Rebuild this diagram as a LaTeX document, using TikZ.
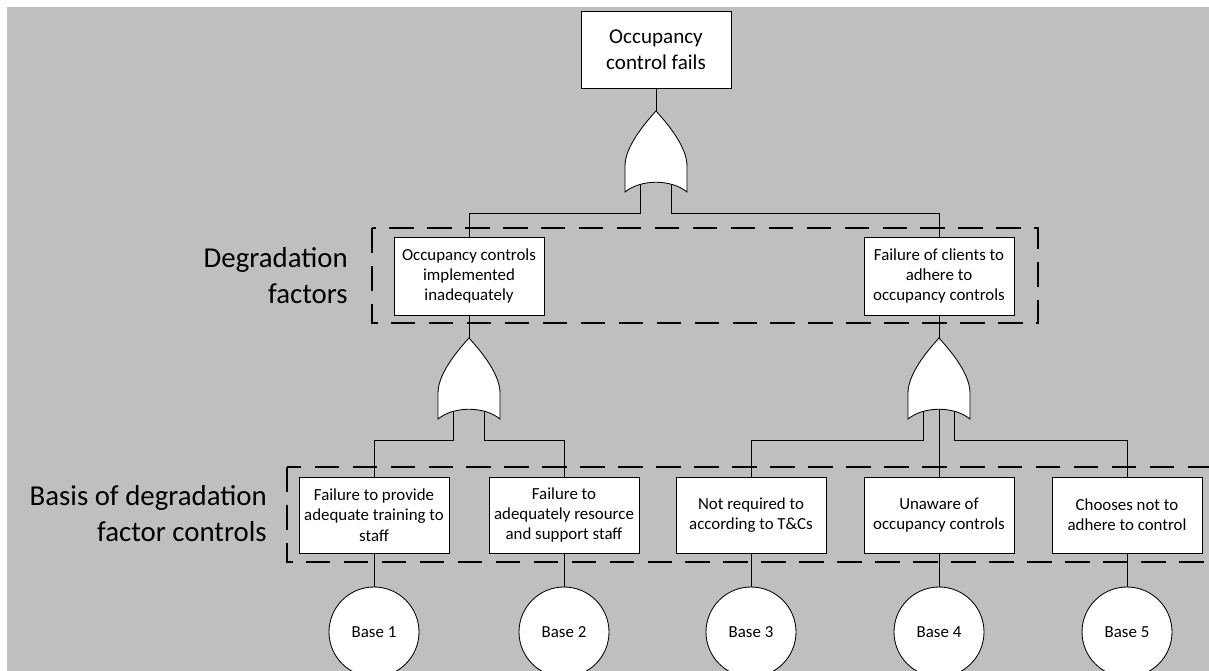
\documentclass[tikz,border=0pt]{standalone}
\usepackage{fontspec}
\setmainfont{Carlito}
\usetikzlibrary{positioning}
\definecolor{bggray}{RGB}{191,191,191}

\tikzset{
  event/.style={draw,fill=white,line width=0.6pt,minimum width=3.75cm,minimum height=1.9cm,
    align=center,inner sep=2pt,font=\fontsize{12}{14.5}\selectfont},
  midevent/.style={event,minimum height=1.95cm},
  topevent/.style={event,minimum height=1.925cm,font=\fontsize{15}{18}\selectfont},
  basic/.style={draw,fill=white,circle,line width=0.6pt,minimum size=2.25cm,inner sep=0pt,
    font=\fontsize{12}{14.5}\selectfont},
  layer/.style={line width=1pt,dash pattern=on 17.5pt off 9.5pt},
  wire/.style={line width=0.6pt},
  sidelabel/.style={anchor=east,align=right,inner sep=0pt,font=\fontsize{20.5}{25.5}\selectfont},
  orgate/.pic={
    \draw[fill=white,line width=0.6pt] (0,0) .. controls (-0.3,-0.33) and (-0.775,-0.9) .. (-0.775,-1.375)
      -- (-0.775,-2.025) .. controls (-0.375,-1.7) and (0.375,-1.7) .. (0.775,-2.025)
      -- (0.775,-1.375) .. controls (0.775,-0.9) and (0.3,-0.33) .. (0,0) -- cycle;
    \coordinate (-out) at (0,0);
    \coordinate (-a) at (-0.39,-1.835);
    \coordinate (-b) at (0.39,-1.835);
    \coordinate (-m) at (0,-1.781);
    \coordinate (-al) at (-0.39,-2.55);
    \coordinate (-bl) at (0.39,-2.55);
  }
}

\begin{document}
\begin{tikzpicture}
\useasboundingbox (0,0) rectangle (30.225,-16.775);
\clip (0,0) rectangle (30.225,-16.775);
\fill[bggray] (0.175,-0.175) rectangle (30.225,-16.775);

% layers
\draw[layer] (9.3,-5.7) rectangle (25.95,-8.075);
\draw[layer] (7.175,-11.675) rectangle (30.6,-14.05);

\node[sidelabel] (lab1) at (8.7,-6.9) {Degradation\\factors};
\node[sidelabel] (lab2) at (6.675,-12.85) {Basis of degradation\\factor controls};

\node[topevent] (top) at (16.4,-1.24) {Occupancy\\control fails};
\pic (g0) at (16.4,-2.775) {orgate};

\node[midevent] (n1) at (11.725,-6.9) {Occupancy controls\\implemented\\inadequately};
\node[midevent] (n2) at (23.475,-6.9) {Failure of clients to\\adhere to\\occupancy controls};
\pic (g1) at (11.725,-8.45) {orgate};
\pic (g2) at (23.475,-8.45) {orgate};

\node[event] (b1) at (9.35,-12.875) {Failure to provide\\adequate training to\\staff};
\node[event] (b2) at (14.1,-12.875) {Failure to\\adequately resource\\and support staff};
\node[event] (b3) at (18.775,-12.875) {Not required to\\according to T\&Cs};
\node[event] (b4) at (23.475,-12.875) {Unaware of\\occupancy controls};
\node[event] (b5) at (28.175,-12.875) {Chooses not to\\adhere to control};

\node[basic] (e1) at (9.35,-15.8) {Base 1};
\node[basic] (e2) at (14.1,-15.8) {Base 2};
\node[basic] (e3) at (18.775,-15.8) {Base 3};
\node[basic] (e4) at (23.475,-15.8) {Base 4};
\node[basic] (e5) at (28.175,-15.8) {Base 5};

% connectors
\draw[wire] (top.south) -- (g0-out);
\draw[wire] (g0-a) -- (g0-al) -| (n1.north);
\draw[wire] (g0-b) -- (g0-bl) -| (n2.north);
\draw[wire] (n1.south) -- (g1-out);
\draw[wire] (n2.south) -- (g2-out);
\draw[wire] (g1-a) -- (g1-al) -| (b1.north);
\draw[wire] (g1-b) -- (g1-bl) -| (b2.north);
\draw[wire] (g2-a) -- (g2-al) -| (b3.north);
\draw[wire] (g2-m) -- (b4.north);
\draw[wire] (g2-b) -- (g2-bl) -| (b5.north);
\foreach \i in {1,...,5}
  \draw[wire] (b\i.south) -- (e\i.north);
\end{tikzpicture}
\end{document}
